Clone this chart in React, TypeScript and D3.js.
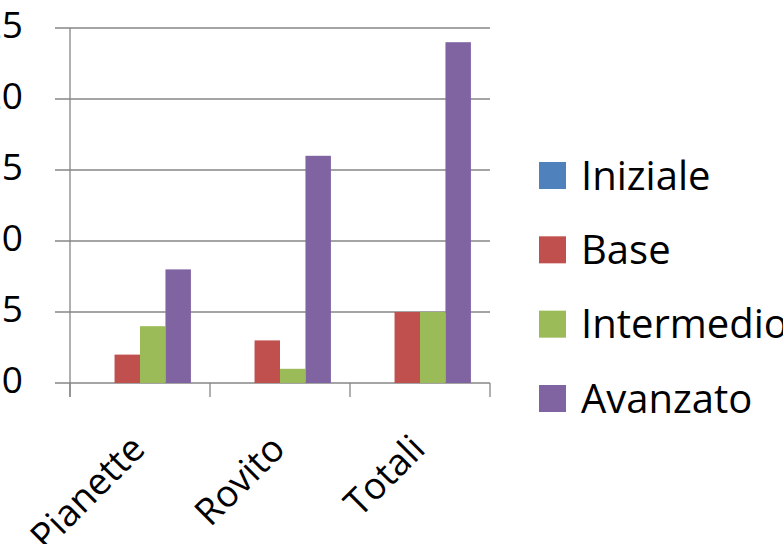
import React from "react";
import * as d3 from "d3";

const categories = ["Pianette", "Rovito", "Totali"];
const seriesNames = ["Iniziale", "Base", "Intermedio", "Avanzato"];
const iniziale = [0, 0, 0];
const base = [2, 3, 5];
const intermedio = [4, 1, 5];
const avanzato = [8, 16, 24];
const yTicks = [0, 5, 10, 15, 20, 25];
const colors = ["#4F81BD", "#C0504D", "#9BBB59", "#8064A2"];

const W = 783;
const H = 544;
const FONT = "'Open Sans', 'Liberation Sans', sans-serif";

export default function App() {
  const series = [iniziale, base, intermedio, avanzato];
  const x = d3.scaleBand<string>().domain(categories).range([70, 490]).padding(0);
  const y = d3.scaleLinear().domain([0, 25]).range([383, 28]);
  const inner = d3
    .scaleBand<string>()
    .domain(seriesNames)
    .range([0, x.bandwidth()])
    .paddingInner(0)
    .paddingOuter(0.75);
  const gridColor = "#868686";
  const legendY = d3.scalePoint<string>().domain(seriesNames).range([175.5, 398.5]);

  return (
    <svg
      width={W}
      height={H}
      style={{ position: "absolute", left: 0, top: 0, background: "#fff" }}
      fontFamily={FONT}
    >
      {/* gridlines */}
      {yTicks.map((t) => (
        <line key={"g" + t} x1={55} x2={490} y1={y(t)} y2={y(t)} stroke={gridColor} strokeWidth={1.3} />
      ))}
      {/* y axis */}
      <line x1={70} x2={70} y1={y(25)} y2={397} stroke={gridColor} strokeWidth={1.3} />
      {/* x ticks */}
      {[...categories.map((c) => x(c) as number), 490].map((px, i) => (
        <line key={"xt" + i} x1={px} x2={px} y1={383} y2={397} stroke={gridColor} strokeWidth={1.3} />
      ))}
      {/* bars */}
      {series.map((vals, si) =>
        vals.map((v, ci) => (
          <rect
            key={si + "-" + ci}
            x={(x(categories[ci]) as number) + (inner(seriesNames[si]) as number)}
            width={inner.bandwidth()}
            y={y(v)}
            height={y(0) - y(v)}
            fill={colors[si]}
          />
        ))
      )}
      {/* y labels */}
      {yTicks.map((t) => (
        <text key={"yl" + t} x={23} y={y(t) + 10} textAnchor="end" fontSize={37} fill="#000">
          {t}
        </text>
      ))}
      {/* x labels */}
      {categories.map((c) => {
        const cx = (x(c) as number) + x.bandwidth() / 2 + 7;
        const cy = 451;
        return (
          <text
            key={"xl" + c}
            x={cx}
            y={cy}
            textAnchor="end"
            fontSize={37}
            fill="#000"
            transform={`rotate(-45 ${cx} ${cy})`}
          >
            {c}
          </text>
        );
      })}
      {/* legend */}
      {seriesNames.map((s, i) => {
        const ly = legendY(s) as number;
        return (
          <g key={"lg" + s}>
            <rect x={539} y={ly - 13.5} width={27} height={27} fill={colors[i]} />
            <text x={581} y={ly + 14} fontSize={40} fill="#000">
              {s}
            </text>
          </g>
        );
      })}
    </svg>
  );
}
